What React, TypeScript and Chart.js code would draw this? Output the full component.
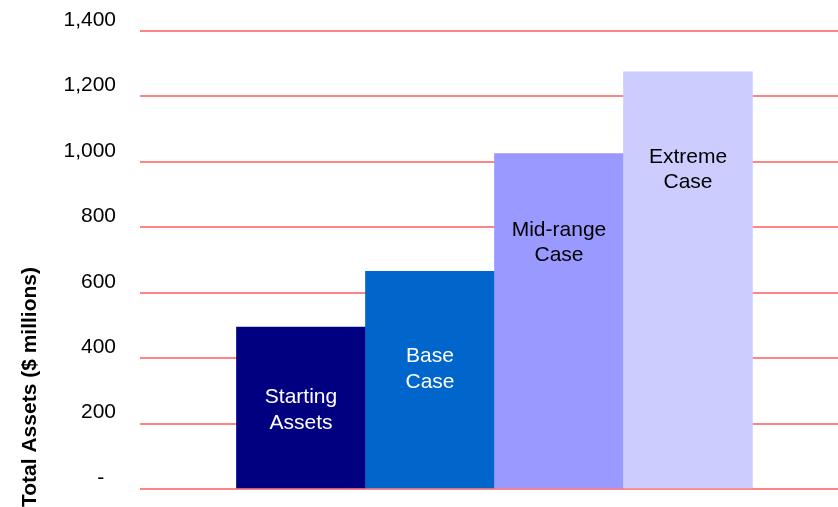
import React, { useEffect, useRef } from "react";
import { Chart, registerables } from "chart.js";

Chart.register(...registerables);

// Scenario bars, in order, with their in-bar captions
const categories: string[][] = [
  ["Starting", "Assets"],
  ["Base", "Case"],
  ["Mid-range", "Case"],
  ["Extreme", "Case"],
];
const totalAssets: number[] = [495, 665, 1025, 1275];
const yTicks: number[] = [0, 200, 400, 600, 800, 1000, 1200, 1400];
const yTitle = "Total Assets ($ millions)";

// Styling
const barColors = ["#000080", "#0066CC", "#9999FF", "#CCCCFF"];
const captionColors = ["#FFFFFF", "#FFFFFF", "#000000", "#000000"];
// distance (px) from each bar's top to the first caption baseline
const captionDrop = [76, 91, 82, 91];
const captionLineHeight = 25.5;
const FONT = "Arial, 'Liberation Sans', Helvetica, sans-serif";

const captionPlugin = {
  id: "barCaptions",
  afterDatasetsDraw(chart: any) {
    const ctx = chart.ctx;
    const meta = chart.getDatasetMeta(0);
    ctx.save();
    ctx.font = `21px ${FONT}`;
    ctx.textAlign = "center";
    ctx.textBaseline = "alphabetic";
    meta.data.forEach((bar: any, i: number) => {
      ctx.fillStyle = captionColors[i];
      categories[i].forEach((line, j) => {
        ctx.fillText(line, bar.x, bar.y + captionDrop[i] + j * captionLineHeight);
      });
    });
    ctx.restore();
  },
};

const axisTitlePlugin = {
  id: "axisTitle",
  afterDraw(chart: any) {
    const ctx = chart.ctx;
    ctx.save();
    ctx.translate(36, chart.height);
    ctx.rotate(-Math.PI / 2);
    ctx.font = `bold 21px ${FONT}`;
    ctx.fillStyle = "#000000";
    ctx.textAlign = "left";
    ctx.textBaseline = "alphabetic";
    ctx.fillText(yTitle, 0, 0);
    ctx.restore();
  },
};

export default function App() {
  const canvasRef = useRef<HTMLCanvasElement | null>(null);

  useEffect(() => {
    if (!canvasRef.current) return;
    const chart = new Chart(canvasRef.current, {
      type: "bar",
      data: {
        datasets: [
          {
            data: totalAssets.map((v, i) => ({ x: i, y: v })),
            backgroundColor: barColors,
            borderWidth: 0,
            barPercentage: 1,
            categoryPercentage: 1,
          },
        ],
      },
      options: {
        responsive: false,
        animation: false,
        layout: { padding: { top: 31, bottom: 18, left: 0, right: 0 } },
        plugins: {
          legend: { display: false },
          tooltip: { enabled: false },
        },
        scales: {
          x: {
            type: "linear",
            display: false,
            offset: false,
            min: -1.248,
            max: 4.163,
          },
          y: {
            min: 0,
            max: 1400,
            afterBuildTicks: (scale: any) => {
              scale.ticks = yTicks.map((v) => ({ value: v }));
            },
            afterFit: (scale: any) => {
              scale.width = 140;
              scale.paddingTop = 0;
              scale.paddingBottom = 0;
            },
            border: { display: false },
            grid: {
              color: "#FF8585",
              lineWidth: 2,
              drawTicks: false,
            },
            ticks: {
              padding: 24,
              labelOffset: -11,
              color: "#000000",
              font: { family: FONT, size: 21 },
              callback: (v: any) =>
                Number(v) === 0 ? "-  " : Number(v).toLocaleString("en-US"),
            },
          },
        },
      },
      plugins: [captionPlugin, axisTitlePlugin],
    });
    return () => chart.destroy();
  }, []);

  return (
    <div style={{ position: "absolute", left: 0, top: 0, width: 838, height: 507, background: "#FFFFFF" }}>
      <canvas ref={canvasRef} width={838} height={507} />
    </div>
  );
}
